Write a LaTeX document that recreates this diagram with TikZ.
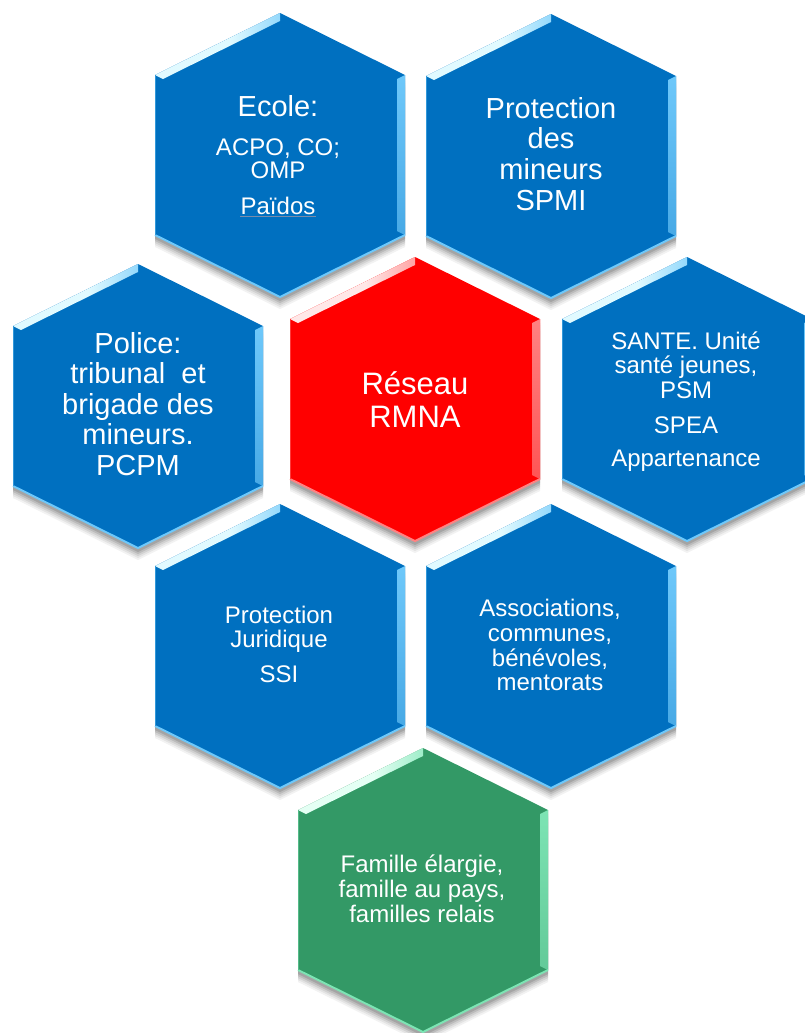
\documentclass[tikz,border=0pt]{standalone}
\usepackage{fontspec}
\setmainfont{Liberation Sans}
\definecolor{hexblue}{RGB}{0,112,192}
\definecolor{hexbluelt}{RGB}{110,200,250}
\definecolor{hexbluehi}{RGB}{225,250,255}
\definecolor{hexred}{RGB}{255,0,0}
\definecolor{hexredlt}{RGB}{255,130,130}
\definecolor{hexredhi}{RGB}{255,232,232}
\definecolor{hexgreen}{RGB}{51,153,102}
\definecolor{hexgreenlt}{RGB}{125,228,180}
\definecolor{hexgreenhi}{RGB}{228,255,244}
\definecolor{linkline}{RGB}{120,140,170}

\pgfdeclarehorizontalshading{bevelhexblue}{100bp}{color(0bp)=(hexbluelt); color(22bp)=(hexbluehi); color(55bp)=(hexbluehi); color(85bp)=(hexbluelt); color(100bp)=(hexblue)}
\pgfdeclarehorizontalshading{bevelhexred}{100bp}{color(0bp)=(hexredlt); color(22bp)=(hexredhi); color(55bp)=(hexredhi); color(85bp)=(hexredlt); color(100bp)=(hexred)}
\pgfdeclarehorizontalshading{bevelhexgreen}{100bp}{color(0bp)=(hexgreenlt); color(22bp)=(hexgreenhi); color(55bp)=(hexgreenhi); color(85bp)=(hexgreenlt); color(100bp)=(hexgreen)}

\newcommand\hexcell[4]{%
 \begin{scope}[shift={(#2,#3)}]
  \foreach \s/\o in {12/0.05,10/0.06,8/0.08,6/0.10,4/0.12}{
   \fill[black,opacity=\o] (0,-142+\s) -- (125,-80+\s) -- (125,80+\s) -- (0,142+\s) -- (-125,80+\s) -- (-125,-80+\s) -- cycle;}
  \fill[#4] (0,-142) -- (125,-80) -- (125,80) -- (0,142) -- (-125,80) -- (-125,-80) -- cycle;
  \coordinate (#1) at (0,0);
  \shade[shading=bevel#4] (-125,-80) -- (0,-142) -- (0,-134) -- (-117,-76) -- cycle;
  \shade[top color=#4lt, bottom color=#4lt!65!#4] (125,-80) -- (125,80) -- (117,76) -- (117,-76) -- cycle;
  \draw[#4lt, line width=2] (-125,80) -- (0,142) -- (125,80);
  \draw[#4lt!45!#4, line width=1] (-125,-80) -- (-125,80);
 \end{scope}}

\tikzset{
 txt/.style={text=white, inner sep=0pt, anchor=base},
 big/.style={txt, font=\fontsize{29bp}{31bp}\selectfont},
 huge/.style={txt, font=\fontsize{31bp}{33bp}\selectfont},
 small/.style={txt, font=\fontsize{24bp}{25bp}\selectfont},
}

\begin{document}
\begin{tikzpicture}[x=1bp,y=-1bp]
\useasboundingbox (0,0) rectangle (805,1033);
\fill[white] (0,0) rectangle (805,1033);
\begin{scope}
\clip (0,0) rectangle (805,1033);
\hexcell{ecole}{280}{155}{hexblue}
\hexcell{spmi}{551}{156}{hexblue}
\hexcell{police}{138}{406}{hexblue}
\hexcell{reseau}{415}{399}{hexred}
\hexcell{sante}{687}{399}{hexblue}
\hexcell{juridique}{280}{646}{hexblue}
\hexcell{assoc}{551}{646}{hexblue}
\hexcell{famille}{423}{890}{hexgreen}
\end{scope}

% Ecole
\node[big]   (ec1) at (278,116) {Ecole:};
\node[small] (ec2) at (278,155) {ACPO, CO;};
\node[small] (ec3) at (278,178) {OMP};
\node[small] (ec4) at (278,214) {Païdos};
\draw[linkline, line width=1] ([yshift=-2.5bp]ec4.base west) -- ([yshift=-2.5bp]ec4.base east);

% Protection des mineurs
\node[big] (sp1) at (551,118) {Protection};
\node[big] (sp2) at (551,148.5) {des};
\node[big] (sp3) at (551,179) {mineurs};
\node[big] (sp4) at (551,210) {SPMI};

% Police
\node[big] (po1) at (138,353) {Police:};
\node[big] (po2) at (138,383.5) {tribunal\ \ et};
\node[big] (po3) at (138,414) {brigade des};
\node[big] (po4) at (138,444.5) {mineurs.};
\node[big] (po5) at (138,475) {PCPM};

% Reseau
\node[huge] (re1) at (415,394) {Réseau};
\node[huge] (re2) at (415,427) {RMNA};

% Sante
\node[small] (sa1) at (686,349) {SANTE. Unité};
\node[small] (sa2) at (686,373.5) {santé jeunes,};
\node[small] (sa3) at (686,398) {PSM};
\node[small] (sa4) at (686,433) {SPEA};
\node[small] (sa5) at (686,466) {Appartenance};

% Protection juridique
\node[small] (pj1) at (279,623) {Protection};
\node[small] (pj2) at (279,647) {Juridique};
\node[small] (pj3) at (279,682) {SSI};

% Associations
\node[small] (as1) at (550,616) {Associations,};
\node[small] (as2) at (550,641) {communes,};
\node[small] (as3) at (550,666) {bénévoles,};
\node[small] (as4) at (550,690) {mentorats};

% Famille
\node[small] (fa1) at (422,872) {Famille élargie,};
\node[small] (fa2) at (422,897) {famille au pays,};
\node[small] (fa3) at (422,922) {familles relais};
\end{tikzpicture}
\end{document}
